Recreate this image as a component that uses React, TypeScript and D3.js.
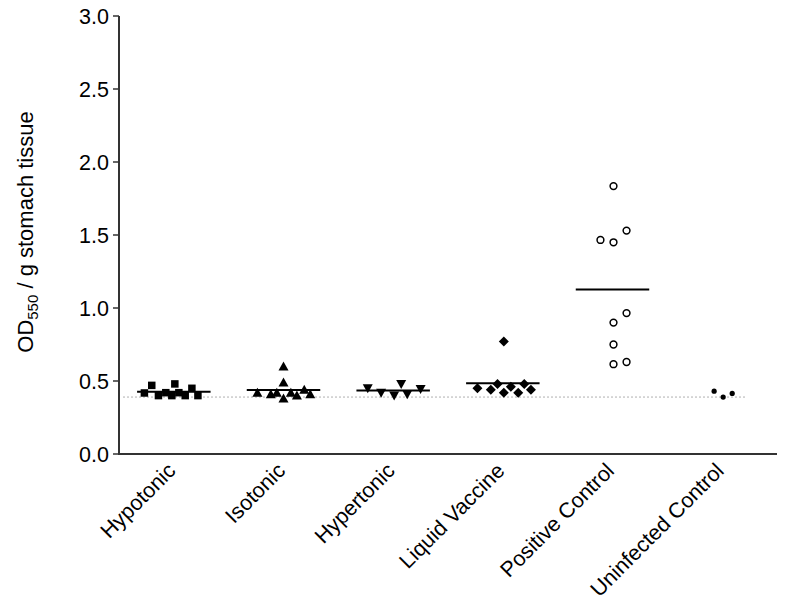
import React from "react";
import * as d3 from "d3";

const categories = ["Hypotonic", "Isotonic", "Hypertonic", "Liquid Vaccine", "Positive Control", "Uninfected Control"];
const shapes = ["square", "triangle", "triangleDown", "diamond", "openCircle", "dot"];
const showMean = [true, true, true, true, true, false];

const hypotonicValues = [0.418, 0.47, 0.40, 0.42, 0.40, 0.48, 0.42, 0.40, 0.45, 0.40];
const hypotonicSlots = [-4.4, -3.3, -2.3, -1.2, -0.3, 0.15, 0.75, 1.7, 2.7, 3.6];
const isotonicValues = [0.42, 0.41, 0.42, 0.60, 0.49, 0.38, 0.42, 0.40, 0.44, 0.41];
const isotonicSlots = [-3.9, -1.9, -1, 0, 0, 0, 1.1, 2, 3.1, 4];
const hypertonicValues = [0.45, 0.42, 0.40, 0.48, 0.41, 0.445];
const hypertonicSlots = [-3.8, -1.8, 0.15, 1.2, 2.1, 4.1];
const liquidValues = [0.45, 0.44, 0.48, 0.77, 0.42, 0.46, 0.42, 0.48, 0.44];
const liquidSlots = [-3.8, -1.8, -0.8, 0.15, 0.15, 1.2, 2.3, 3.2, 4.2];
const positiveValues = [1.835, 1.466, 1.45, 1.53, 0.965, 0.90, 0.75, 0.615, 0.63];
const positiveSlots = [0.15, -1.8, 0.15, 2.1, 2.1, 0.15, 0.15, 0.15, 2.1];
const uninfectedValues = [0.43, 0.39, 0.415];
const uninfectedSlots = [-1.2, 0.15, 1.5];

const groupValues = [hypotonicValues, isotonicValues, hypertonicValues, liquidValues, positiveValues, uninfectedValues];
const groupSlots = [hypotonicSlots, isotonicSlots, hypertonicSlots, liquidSlots, positiveSlots, uninfectedSlots];

const yTicks = [0, 0.5, 1.0, 1.5, 2.0, 2.5, 3.0];
const baselineValue = 0.39;

const W = 785;
const H = 608;
const axisX = 119;
const axisRight = 777;
const yTop = 16;
const yBottom = 454;

function Marker({ shape, x, y }: { shape: string; x: number; y: number }) {
  const fill = "#000";
  if (shape === "square") {
    const s = 7.5;
    return <rect x={x - s / 2} y={y - s / 2} width={s} height={s} fill={fill} />;
  }
  if (shape === "triangle") {
    const s = 5;
    return <path d={`M${x},${y - s}L${x + s},${y + s * 0.8}L${x - s},${y + s * 0.8}Z`} fill={fill} />;
  }
  if (shape === "triangleDown") {
    const s = 5;
    return <path d={`M${x},${y + s}L${x + s},${y - s * 0.8}L${x - s},${y - s * 0.8}Z`} fill={fill} />;
  }
  if (shape === "diamond") {
    const s = 5;
    return <path d={`M${x},${y - s}L${x + s},${y}L${x},${y + s}L${x - s},${y}Z`} fill={fill} />;
  }
  if (shape === "openCircle") {
    return <circle cx={x} cy={y} r={3.4} fill="#fff" stroke="#000" strokeWidth={1.5} />;
  }
  return <circle cx={x} cy={y} r={2.6} fill={fill} />;
}

export default function App() {
  const x = d3.scaleBand<string>().domain(categories).range([axisX, axisRight]).padding(0);
  const y = d3.scaleLinear().domain([0, 3]).range([yBottom, yTop]);
  const slotPx = x.bandwidth() * 0.061;
  const meanHalf = x.bandwidth() * 0.335;

  return (
    <svg
      width={W}
      height={H}
      style={{ position: "absolute", left: 0, top: 0, background: "#fff" }}
      fontFamily="'Liberation Sans', Arial, sans-serif"
    >
      {/* baseline dotted */}
      <line
        x1={axisX + 4}
        x2={747}
        y1={y(baselineValue)}
        y2={y(baselineValue)}
        stroke="#b0b0b0"
        strokeWidth={1}
        strokeDasharray="2,2"
      />
      {/* y axis */}
      <line x1={axisX} x2={axisX} y1={yTop} y2={yBottom} stroke="#333" strokeWidth={2} />
      <line x1={axisX - 1} x2={axisRight} y1={yBottom} y2={yBottom} stroke="#333" strokeWidth={2} />
      {yTicks.map((t) => (
        <g key={t}>
          <line x1={axisX - 6} x2={axisX} y1={y(t)} y2={y(t)} stroke="#333" strokeWidth={1.5} />
          <text x={axisX - 10} y={y(t)} dy="0.36em" textAnchor="end" fontSize={21.5} fill="#000">
            {t.toFixed(1)}
          </text>
        </g>
      ))}
      {/* y label */}
      <text transform={`translate(33,232) rotate(-90)`} textAnchor="middle" fontSize={22} fill="#000">
        OD<tspan fontSize={15} dy="5">550</tspan>
        <tspan dy="-5"> / g stomach tissue</tspan>
      </text>
      {/* x labels */}
      {categories.map((c) => {
        const cx = (x(c) as number) + x.bandwidth() / 2;
        return (
          <text
            key={c}
            transform={`translate(${cx + 3},${yBottom + 18}) rotate(-45)`}
            textAnchor="end"
            fontSize={21.5}
            fill="#000"
          >
            {c}
          </text>
        );
      })}
      {/* points */}
      {categories.map((c, gi) => {
        const cx = (x(c) as number) + x.bandwidth() / 2;
        const vals = groupValues[gi];
        const slots = groupSlots[gi];
        const m = d3.mean(vals) as number;
        return (
          <g key={c}>
            {vals.map((v, i) => (
              <Marker key={i} shape={shapes[gi]} x={cx + slots[i] * slotPx} y={y(v)} />
            ))}
            {showMean[gi] && (
              <line x1={cx - meanHalf} x2={cx + meanHalf} y1={y(m)} y2={y(m)} stroke="#000" strokeWidth={2} />
            )}
          </g>
        );
      })}
    </svg>
  );
}
